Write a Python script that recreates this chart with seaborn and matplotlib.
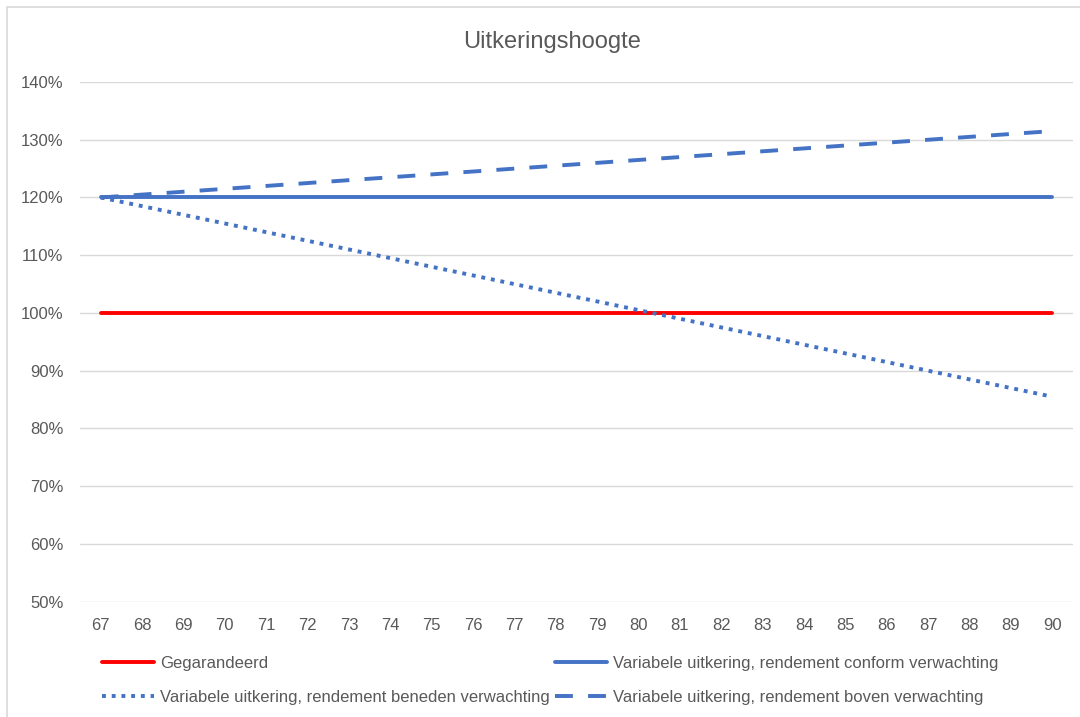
import matplotlib
matplotlib.use('Agg')
import matplotlib.pyplot as plt
import seaborn as sns
from matplotlib.patches import Rectangle
from matplotlib.ticker import FuncFormatter

# Data
ages = list(range(67, 91))
gegarandeerd = [100] * 24
conform = [120] * 24
beneden = [120, 118.5, 117, 115.5, 114, 112.5, 111, 109.5, 108, 106.5, 105, 103.5,
           102, 100.5, 99, 97.5, 96, 94.5, 93, 91.5, 90, 88.5, 87, 85.5]
boven = [120, 120.5, 121, 121.5, 122, 122.5, 123, 123.5, 124, 124.5, 125, 125.5,
         126, 126.5, 127, 127.5, 128, 128.5, 129, 129.5, 130, 130.5, 131, 131.5]
y_ticks = [50, 60, 70, 80, 90, 100, 110, 120, 130, 140]

sns.set_style('white')
plt.rcParams['font.family'] = ['Liberation Sans Narrow', 'Liberation Sans', 'DejaVu Sans']

grey = '#595959'
blue = '#4472C4'
red = '#FF0000'

fig = plt.figure(figsize=(10.8, 7.17), dpi=100)
ax = fig.add_axes([80 / 1080, 1 - 601.7 / 717, (1073 - 80) / 1080, (601.7 - 82) / 717])

lw = 2.8
sns.lineplot(x=ages, y=gegarandeerd, ax=ax, color=red, linewidth=lw, label='Gegarandeerd')
sns.lineplot(x=ages, y=beneden, ax=ax, color=blue, linewidth=lw,
             linestyle=(0, (1, 1.5)),
             label='Variabele uitkering, rendement beneden verwachting')
sns.lineplot(x=ages, y=conform, ax=ax, color=blue, linewidth=lw,
             label='Variabele uitkering, rendement conform verwachting')
sns.lineplot(x=ages, y=boven, ax=ax, color=blue, linewidth=lw,
             linestyle=(0, (4.6, 3.9)),
             label='Variabele uitkering, rendement boven verwachting')

ax.set_xlim(66.5, 90.5)
ax.set_ylim(50, 140)
ax.set_xticks(ages)
ax.set_yticks(y_ticks)
ax.yaxis.set_major_formatter(FuncFormatter(lambda v, p: f'{int(v)}%'))
ax.grid(axis='y', color='#D9D9D9', linewidth=1)
ax.set_axisbelow(True)
for s in ax.spines.values():
    s.set_visible(False)
ax.tick_params(axis='both', length=0, labelsize=12, labelcolor=grey)
ax.tick_params(axis='y', pad=12)
ax.tick_params(axis='x', pad=12)

ax.get_legend().remove()
handles, labels = ax.get_legend_handles_labels()
fig.legend(handles, labels, ncol=2, loc='upper left',
           bbox_to_anchor=(102 / 1080, 1 - 656 / 717),
           frameon=False, borderpad=0, borderaxespad=0,
           handlelength=3.1, handletextpad=0.4, columnspacing=0.3,
           labelspacing=1.13, fontsize=12, labelcolor=grey)

fig.text(552 / 1080, 1 - 42 / 717, 'Uitkeringshoogte', ha='center', va='center',
         fontsize=17, color=grey)

fig.patches.append(Rectangle((7 / 1080, -0.01), 1.1, 1 - 7 / 717 + 0.01,
                             transform=fig.transFigure, fill=False,
                             edgecolor='#D9D9D9', linewidth=1.2))

fig.savefig('out.png', dpi=100)
